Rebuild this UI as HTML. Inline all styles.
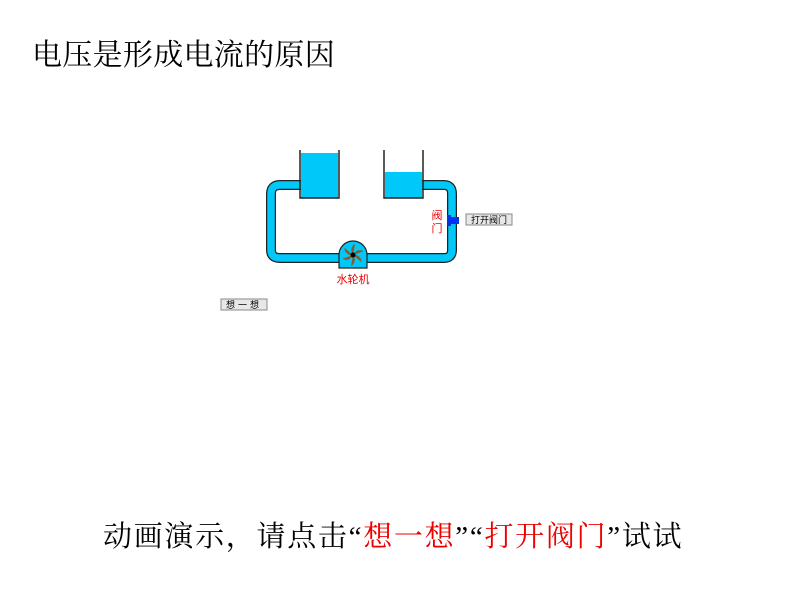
<!DOCTYPE html>
<html><head><meta charset="utf-8"><style>
body{margin:0;width:800px;height:600px;background:#fff;position:relative;overflow:hidden;font-family:"Liberation Sans","Noto Sans CJK SC",sans-serif}
.t{position:absolute;white-space:nowrap;color:#000}
.q{font-family:"Liberation Serif",serif}
</style></head><body>
<div class="t" style="left:32px;top:30px;font-size:30px;letter-spacing:0.3px;font-family:'Noto Serif CJK SC',serif">电压是形成电流的原因</div>
<div class="t" style="left:103px;top:514px;font-size:29px;letter-spacing:1.7px;font-family:'Noto Serif CJK SC',serif">动画演示，请点击<span class="q">“</span><span style="color:#e00">想一想</span><span class="q">”“</span><span style="color:#e00">打开阀门</span><span class="q">”</span>试试</div>
<svg width="800" height="600" style="position:absolute;left:0;top:0">
 <path d="M306 185 H280 Q271 185 271 194 V250 Q271 258 280 258 H444 Q452 258 452 250 V194 Q452 185 444 185 H416" fill="none" stroke="#222" stroke-width="10"/>
 <path d="M306 185 H280 Q271 185 271 194 V250 Q271 258 280 258 H444 Q452 258 452 250 V194 Q452 185 444 185 H416" fill="none" stroke="#00c8f8" stroke-width="7.5"/>
 <rect x="301" y="153" width="37" height="45" fill="#00c8f8"/>
 <rect x="385" y="172" width="37" height="26" fill="#00c8f8"/>
 <path d="M300 150 V198 H339 V150 M384 150 V198 H423 V150" fill="none" stroke="#222" stroke-width="1.5"/>
 <path d="M339 268 V255 A14 14 0 1 1 367 255 V268 Z" fill="#00c8f8" stroke="#222" stroke-width="1.2"/>
 <g fill="#8a5a2a" transform="translate(353,255)">
  <path d="M0 0 C-3 -4 -2 -9 2 -11 L0 0Z" transform="rotate(0)"/>
  <path d="M0 0 C-3 -4 -2 -9 2 -11 L0 0Z" transform="rotate(60)"/>
  <path d="M0 0 C-3 -4 -2 -9 2 -11 L0 0Z" transform="rotate(120)"/>
  <path d="M0 0 C-3 -4 -2 -9 2 -11 L0 0Z" transform="rotate(180)"/>
  <path d="M0 0 C-3 -4 -2 -9 2 -11 L0 0Z" transform="rotate(240)"/>
  <path d="M0 0 C-3 -4 -2 -9 2 -11 L0 0Z" transform="rotate(300)"/>
 </g>
 <circle cx="353" cy="255" r="2.5" fill="#000"/>
 <rect x="447" y="215" width="4" height="11" fill="#0033ee"/>
 <rect x="450" y="217" width="9" height="7" fill="#0033ee"/>
 <rect x="466" y="214" width="46" height="11" fill="#e8e8e8" stroke="#888" stroke-width="1"/>
 <text x="489" y="223" font-size="9" text-anchor="middle" font-family="Noto Sans CJK SC,sans-serif">打开阀门</text>
 <text x="437" y="219" font-size="11" fill="#e00" text-anchor="middle" font-family="Noto Sans CJK SC,sans-serif">阀</text>
 <text x="437" y="232" font-size="11" fill="#e00" text-anchor="middle" font-family="Noto Sans CJK SC,sans-serif">门</text>
 <text x="353" y="283" font-size="11" fill="#e00" text-anchor="middle" font-family="Noto Sans CJK SC,sans-serif">水轮机</text>
 <rect x="221" y="299" width="46" height="11" fill="#e8e8e8" stroke="#888" stroke-width="1"/>
 <text x="244" y="308" font-size="9" text-anchor="middle" font-family="Noto Sans CJK SC,sans-serif" letter-spacing="3">想一想</text>
</svg>
</body></html>
